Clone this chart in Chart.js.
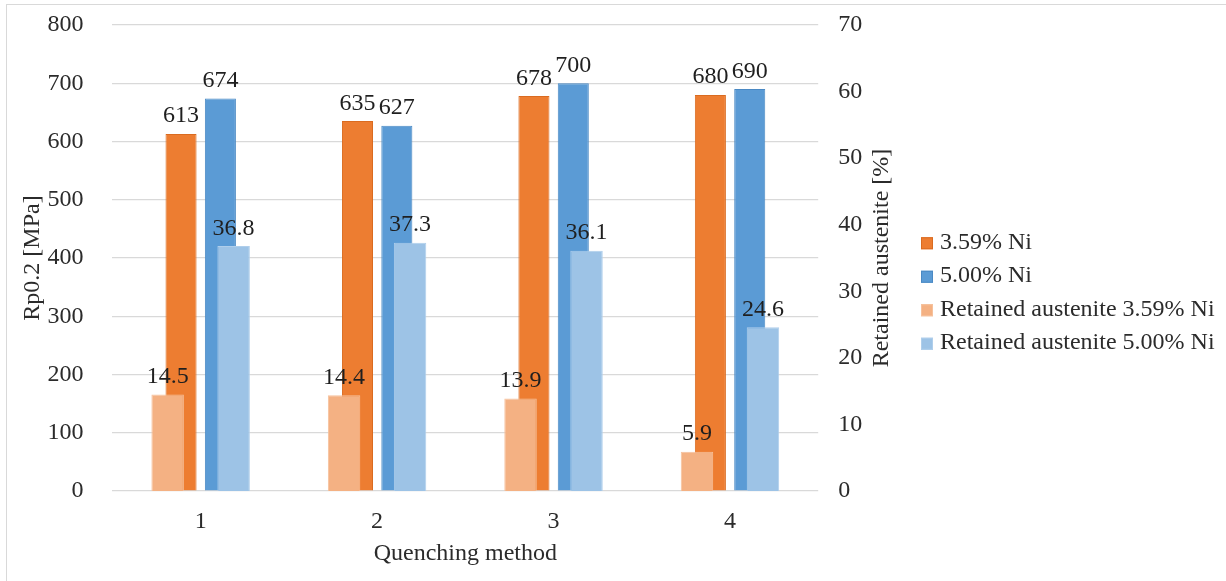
<!DOCTYPE html>
<html>
<head>
<meta charset="utf-8">
<script src="https://cdn.jsdelivr.net/npm/chart.js@4/dist/chart.umd.min.js"></script>
<style>
  html, body { margin: 0; padding: 0; background: #ffffff; }
  #wrap { position: relative; width: 1226px; height: 581px; }
  #frame { position: absolute; left: 6px; top: 4px; right: 0; bottom: 0;
           border-left: 1.5px solid #d9d9d9; border-top: 1.5px solid #d9d9d9; pointer-events: none; }
</style>
</head>
<body>
<div id="wrap">
  <canvas id="chart" width="1226" height="581"></canvas>
  <div id="frame"></div>
</div>
<script>
// Quenching methods on the category axis
const categories = ['1', '2', '3', '4'];

// Yield strength Rp0.2 [MPa]
const rp02_359Ni = [613, 635, 678, 680];
const rp02_500Ni = [674, 627, 700, 690];

// Retained austenite [%]
const ra_359Ni = [14.5, 14.4, 13.9, 5.9];
const ra_500Ni = [36.8, 37.3, 36.1, 24.6];

// Axis ranges and tick spacing
const leftAxisTicks = { min: 0, max: 800, step: 100 };
const rightAxisTicks = { min: 0, max: 70, step: 10 };

const SERIF = "'Liberation Serif', 'Times New Roman', serif";
const FONT_SIZE = 24;
const TEXT = '#2b2b2b';
const RIGHT_TITLE = 'Retained austenite [%]';

// Tick-label paddings (Chart.js reserves them on both sides of the labels;
// the outer copy is taken back in afterFit)
const PAD_Y = 29;
const PAD_Y2 = 20;
const PAD_X = 16;

// Vertical axes: keep the outer label padding out of the layout so the
// plot can start right under the top tick label.
function trimVertical(scale, widthChange) {
  scale.width += widthChange;
  scale.paddingTop = 0;
  scale.paddingBottom = 0;
}

// Hidden index axis whose category centres are moved sideways by `shift`
// (a fraction of one category width), so each series sits at its own slot.
function slotAxis(shift) {
  return {
    type: 'linear',
    display: false,
    offset: false,
    min: 0.5 - shift,
    max: categories.length + 0.5 - shift,
    grid: { display: false },
    ticks: { stepSize: 1 }
  };
}

// Writes each bar's value just above its top
const valueLabels = {
  id: 'valueLabels',
  afterDatasetsDraw(chart) {
    const ctx = chart.ctx;
    ctx.save();
    ctx.font = FONT_SIZE + 'px ' + SERIF;
    ctx.fillStyle = '#1f1f1f';
    ctx.textAlign = 'center';
    ctx.textBaseline = 'alphabetic';
    chart.data.datasets.forEach((ds, i) => {
      const meta = chart.getDatasetMeta(i);
      if (meta.hidden) return;
      meta.data.forEach((bar, j) => {
        ctx.fillText(String(ds.data[j]), bar.x, bar.y - 11.5);
      });
    });
    ctx.restore();
  }
};

// Right axis title (reads bottom-to-top) and the series legend
const sideAnnotations = {
  id: 'sideAnnotations',
  afterDraw(chart) {
    const ctx = chart.ctx;
    const y2 = chart.scales.y2;
    const area = chart.chartArea;
    ctx.save();
    ctx.font = FONT_SIZE + 'px ' + SERIF;
    ctx.fillStyle = TEXT;

    // axis title
    ctx.save();
    ctx.translate(y2.right - 16, (area.top + area.bottom) / 2);
    ctx.rotate(-Math.PI / 2);
    ctx.textAlign = 'center';
    ctx.textBaseline = 'middle';
    ctx.fillText(RIGHT_TITLE, 0, 0);
    ctx.restore();

    // legend
    const rowGap = 33.5;
    const box = 12;
    const x0 = y2.right + 23;
    const n = chart.data.datasets.length;
    const yMid = chart.height / 2 + 2;
    ctx.textAlign = 'left';
    ctx.textBaseline = 'middle';
    chart.data.datasets.forEach((ds, i) => {
      const cy = yMid + (i - (n - 1) / 2) * rowGap;
      ctx.fillStyle = ds.backgroundColor;
      ctx.fillRect(x0, cy - box / 2 + 1, box, box);
      ctx.strokeStyle = ds.borderColor;
      ctx.lineWidth = 1;
      ctx.strokeRect(x0 + 0.5, cy - box / 2 + 1.5, box - 1, box - 1);
      ctx.fillStyle = TEXT;
      ctx.fillText(ds.label, x0 + box + 7, cy);
    });
    ctx.restore();
  }
};

new Chart(document.getElementById('chart'), {
  type: 'bar',
  data: {
    labels: categories,
    datasets: [
      {
        label: '3.59% Ni', data: rp02_359Ni, xAxisID: 'xA', yAxisID: 'y', order: 2,
        grouped: false, categoryPercentage: 1, barPercentage: 0.176,
        backgroundColor: '#ED7D31', borderColor: '#DA6B20', borderWidth: 1
      },
      {
        label: '5.00% Ni', data: rp02_500Ni, xAxisID: 'xB', yAxisID: 'y', order: 2,
        grouped: false, categoryPercentage: 1, barPercentage: 0.176,
        backgroundColor: '#5B9BD5', borderColor: '#4A89C4', borderWidth: 1
      },
      {
        label: 'Retained austenite 3.59% Ni', data: ra_359Ni, xAxisID: 'xC', yAxisID: 'y2', order: 1,
        grouped: false, categoryPercentage: 1, barPercentage: 0.184,
        backgroundColor: '#F4B183', borderColor: '#F6C19C', borderWidth: 1
      },
      {
        label: 'Retained austenite 5.00% Ni', data: ra_500Ni, xAxisID: 'xD', yAxisID: 'y2', order: 1,
        grouped: false, categoryPercentage: 1, barPercentage: 0.184,
        backgroundColor: '#9DC3E6', borderColor: '#AFCEEB', borderWidth: 1
      }
    ]
  },
  options: {
    responsive: false,
    animation: false,
    layout: { padding: { left: 18.6, top: 25, right: 328, bottom: 12.6 } },
    plugins: {
      tooltip: { enabled: false },
      legend: { display: false }
    },
    scales: {
      x: {
        type: 'category',
        offset: true,
        grid: { display: false, drawTicks: false },
        border: { display: false },
        ticks: { font: { family: SERIF, size: FONT_SIZE }, color: TEXT, padding: PAD_X },
        title: { display: true, text: 'Quenching method', font: { family: SERIF, size: FONT_SIZE }, color: TEXT, padding: { top: 3.8, bottom: 0 } },
        afterFit(scale) { scale.height -= PAD_X; }
      },
      xA: slotAxis(-0.111),
      xB: slotAxis(0.112),
      xC: slotAxis(-0.187),
      xD: slotAxis(0.187),
      y: {
        position: 'left',
        min: leftAxisTicks.min, max: leftAxisTicks.max,
        grid: { color: '#d9d9d9', lineWidth: 1.2, drawTicks: false },
        border: { display: false },
        ticks: { stepSize: leftAxisTicks.step, font: { family: SERIF, size: FONT_SIZE }, color: TEXT, padding: PAD_Y },
        title: { display: true, text: 'Rp0.2 [MPa]', font: { family: SERIF, size: FONT_SIZE }, color: TEXT, padding: { top: 0, bottom: 0 } },
        afterFit(scale) { trimVertical(scale, -PAD_Y); }
      },
      y2: {
        position: 'right',
        min: rightAxisTicks.min, max: rightAxisTicks.max,
        grid: { display: false, drawTicks: false },
        border: { display: false },
        ticks: { stepSize: rightAxisTicks.step, font: { family: SERIF, size: FONT_SIZE }, color: TEXT, padding: PAD_Y2 },
        title: { display: false },
        afterFit(scale) { trimVertical(scale, FONT_SIZE * 1.2 + 7 - PAD_Y2); }
      }
    }
  },
  plugins: [valueLabels, sideAnnotations]
});
</script>
</body>
</html>
